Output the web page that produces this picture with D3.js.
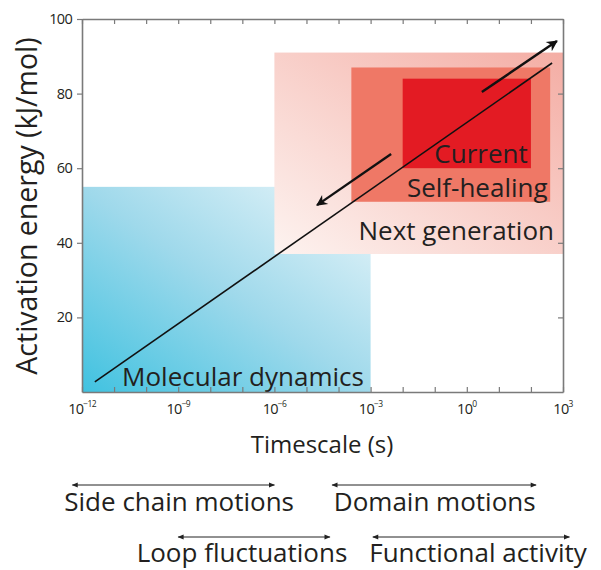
<!DOCTYPE html>
<html lang="en">
<head>
    <meta charset="UTF-8">
    <title>Activation energy vs timescale</title>
    <script src="https://d3js.org/d3.v7.min.js"></script>
    <style>
body {
    margin: 0;
    background: #fff;
}
svg {
    display: block;
    font-family: "Open Sans", sans-serif;
}
.lbl {
    fill: #231f20;
}
    </style>
</head>
<body>
    <svg id="chart" width="601" height="570"></svg>

    <script>
// data (time in seconds, energy in kJ/mol)
const xTickExponents = [-12, -9, -6, -3, 0, 3];
const yTicks = [20, 40, 60, 80, 100];

const regionNames = ["Molecular dynamics", "Next generation", "Self-healing", "Current"];
const regionTime = [[1e-12, 1e-3], [1e-6, 1e3], [10 ** -3.6, 10 ** 2.6], [1e-2, 1e2]];
const regionEnergy = [[0, 55], [37, 91], [51, 87], [60, 84]];

const trendTime = [10 ** -11.6, 10 ** 2.66];
const trendEnergy = [2.7, 88.2];

const arrowTime = [[10 ** 0.47, 10 ** 2.81], [10 ** -2.36, 10 ** -4.67]];
const arrowEnergy = [[80.4, 94.1], [63.8, 50.1]];

const motionNames = ["Side chain motions", "Domain motions", "Loop fluctuations", "Functional activity"];
const motionTime = [[10 ** -12.3, 1e-6], [10 ** -4.2, 10 ** 2.16], [1e-9, 10 ** -4.27], [10 ** -2.93, 10 ** 3.2]];
const motionLabelTime = [10 ** -8.97, 10 ** -1.0, 10 ** -7.01, 10 ** 0.35];
const motionRow = [0, 0, 1, 1];

const plotLeft = 82, plotRight = 563, plotTop = 19, plotBottom = 392;

const x = d3.scaleLog().domain([1e-12, 1e3]).range([plotLeft, plotRight]);
const y = d3.scaleLinear().domain([0, 100]).range([plotBottom, plotTop]);

const svg = d3.select("#chart");
const defs = svg.append("defs");

const blue = defs.append("linearGradient").attr("id", "gBlue")
    .attr("x1", 0).attr("y1", 1).attr("x2", 1).attr("y2", 0);
blue.append("stop").attr("offset", 0).attr("stop-color", "#40c2e0");
blue.append("stop").attr("offset", 0.5).attr("stop-color", "#9fd9eb");
blue.append("stop").attr("offset", 1).attr("stop-color", "#eaf6fa");

const pink = defs.append("linearGradient").attr("id", "gPink")
    .attr("x1", 0).attr("y1", 1).attr("x2", 1).attr("y2", 0);
pink.append("stop").attr("offset", 0).attr("stop-color", "#fdf3f0");
pink.append("stop").attr("offset", 1).attr("stop-color", "#f4ada4");

defs.append("marker").attr("id", "head")
    .attr("viewBox", "0 0 10 10").attr("refX", 9).attr("refY", 5)
    .attr("markerWidth", 15).attr("markerHeight", 11).attr("markerUnits", "userSpaceOnUse")
    .attr("orient", "auto-start-reverse")
    .append("path").attr("d", "M0,0 L10,5 L0,10 L3,5 Z").attr("fill", "#111");

defs.append("marker").attr("id", "small")
    .attr("viewBox", "0 0 10 10").attr("refX", 9).attr("refY", 5)
    .attr("markerWidth", 9).attr("markerHeight", 6).attr("markerUnits", "userSpaceOnUse")
    .attr("orient", "auto-start-reverse")
    .append("path").attr("d", "M0,1 L10,5 L0,9 Z").attr("fill", "#222");

const fills = ["url(#gBlue)", "url(#gPink)", "#ef7866", "#e31b23"];

svg.append("g").selectAll("rect")
    .data(regionNames)
    .join("rect")
    .attr("x", (d, i) => x(regionTime[i][0]))
    .attr("width", (d, i) => x(regionTime[i][1]) - x(regionTime[i][0]))
    .attr("y", (d, i) => y(regionEnergy[i][1]))
    .attr("height", (d, i) => y(regionEnergy[i][0]) - y(regionEnergy[i][1]))
    .attr("fill", (d, i) => fills[i]);

// region labels
const lblPos = [
    { t: 10 ** -10.75, e: 1.6, anchor: "start" },
    { t: 10 ** 2.72, e: 40.7, anchor: "end" },
    { t: 10 ** 2.52, e: 52.3, anchor: "end" },
    { t: 10 ** 1.9, e: 61.4, anchor: "end" }
];
svg.append("g").selectAll("text")
    .data(regionNames)
    .join("text")
    .attr("class", "lbl")
    .attr("x", (d, i) => x(lblPos[i].t))
    .attr("y", (d, i) => y(lblPos[i].e))
    .attr("text-anchor", (d, i) => lblPos[i].anchor)
    .attr("font-size", 26)
    .text(d => d);

// trend line and arrows
svg.append("line")
    .attr("x1", x(trendTime[0])).attr("y1", y(trendEnergy[0]))
    .attr("x2", x(trendTime[1])).attr("y2", y(trendEnergy[1]))
    .attr("stroke", "#111").attr("stroke-width", 1.6);

svg.append("g").selectAll("line")
    .data(arrowTime)
    .join("line")
    .attr("x1", d => x(d[0])).attr("x2", d => x(d[1]))
    .attr("y1", (d, i) => y(arrowEnergy[i][0])).attr("y2", (d, i) => y(arrowEnergy[i][1]))
    .attr("stroke", "#111").attr("stroke-width", 2.4)
    .attr("marker-end", "url(#head)");

// axes
const decades = d3.range(-12, 4).map(e => 10 ** e);
const axisColor = "#7a7a7a";

function styleAxis(g) {
    g.select(".domain").attr("stroke", axisColor).attr("stroke-width", 1.6);
    g.selectAll(".tick line").attr("stroke", axisColor).attr("stroke-width", 1.2);
}

svg.append("g")
    .attr("transform", `translate(0,${plotBottom})`)
    .call(d3.axisBottom(x).tickValues(decades).tickSizeInner(-5).tickSizeOuter(0).tickFormat(""))
    .call(styleAxis);

svg.append("g")
    .attr("transform", `translate(0,${plotTop})`)
    .call(d3.axisTop(x).tickValues(decades).tickSizeInner(-5).tickSizeOuter(0).tickFormat(""))
    .call(styleAxis);

svg.append("g")
    .attr("transform", `translate(${plotLeft},0)`)
    .call(d3.axisLeft(y).tickValues(yTicks).tickSizeInner(5).tickSizeOuter(0).tickFormat(""))
    .call(styleAxis);

svg.append("g")
    .attr("transform", `translate(${plotRight},0)`)
    .call(d3.axisRight(y).tickValues([20, 40, 60, 80]).tickSizeInner(-5).tickSizeOuter(0).tickFormat(""))
    .call(styleAxis);

// tick labels
const xl = svg.append("g").selectAll("text")
    .data(xTickExponents)
    .join("text")
    .attr("class", "lbl")
    .attr("x", d => x(10 ** d))
    .attr("y", 414)
    .attr("text-anchor", "middle")
    .attr("font-size", 14.5)
    .attr("letter-spacing", -0.7);
xl.append("tspan").text("10");
xl.append("tspan").attr("dy", -7).attr("font-size", 8.5)
    .text(d => d < 0 ? "\u2212" + (-d) : d);

svg.append("g").selectAll("text")
    .data(yTicks)
    .join("text")
    .attr("class", "lbl")
    .attr("x", 72)
    .attr("y", d => y(d) + 5)
    .attr("text-anchor", "end")
    .attr("font-size", 14.5)
    .attr("letter-spacing", -0.7)
    .text(d => d);

// axis titles
svg.append("text")
    .attr("class", "lbl")
    .attr("x", 322)
    .attr("y", 453)
    .attr("text-anchor", "middle")
    .attr("font-size", 24)
    .text("Timescale (s)");

svg.append("text")
    .attr("class", "lbl")
    .attr("transform", "translate(37,206) rotate(-90)")
    .attr("text-anchor", "middle")
    .attr("font-size", 28.5)
    .text("Activation energy (kJ/mol)");

// motion ranges under the axis
const rowArrowY = [485, 537];
const rowTextY = [511, 562];

svg.append("g").selectAll("line")
    .data(motionTime)
    .join("line")
    .attr("x1", d => x(d[0])).attr("x2", d => x(d[1]))
    .attr("y1", (d, i) => rowArrowY[motionRow[i]]).attr("y2", (d, i) => rowArrowY[motionRow[i]])
    .attr("stroke", "#222").attr("stroke-width", 1)
    .attr("marker-start", "url(#small)")
    .attr("marker-end", "url(#small)");

svg.append("g").selectAll("text")
    .data(motionNames)
    .join("text")
    .attr("class", "lbl")
    .attr("x", (d, i) => x(motionLabelTime[i]))
    .attr("y", (d, i) => rowTextY[motionRow[i]])
    .attr("text-anchor", "middle")
    .attr("font-size", 26)
    .text(d => d);
    </script>
</body>
</html>
